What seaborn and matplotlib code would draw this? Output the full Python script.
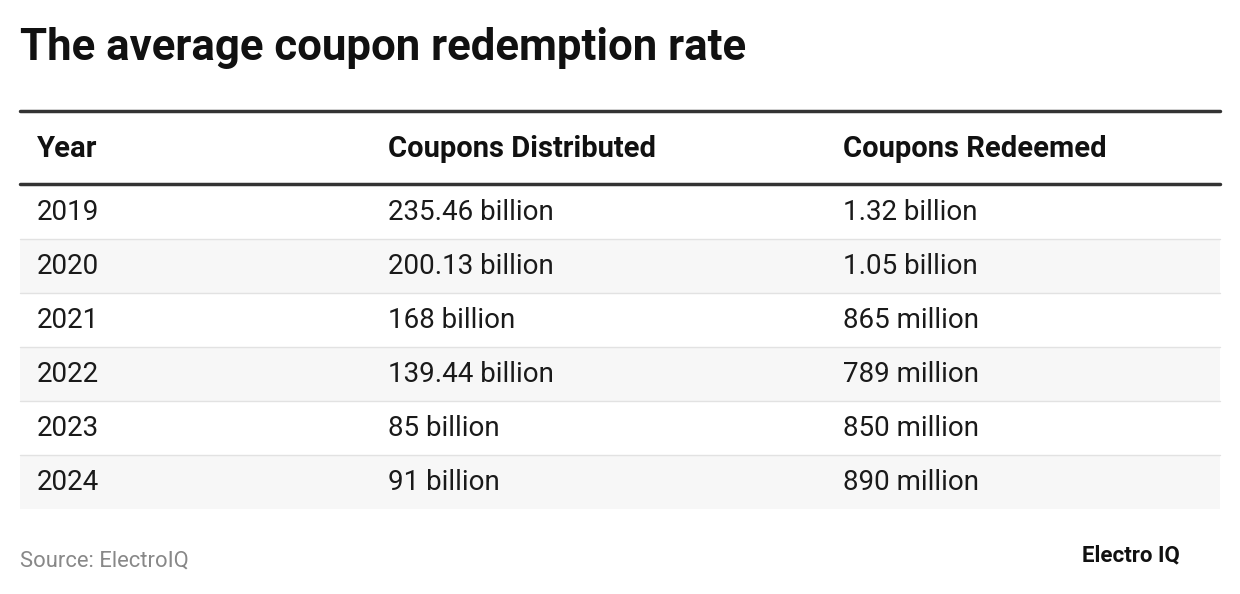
import matplotlib
matplotlib.use("Agg")
import matplotlib.pyplot as plt
import seaborn as sns

years = ["2019", "2020", "2021", "2022", "2023", "2024"]
distributed = ["235.46 billion", "200.13 billion", "168 billion", "139.44 billion", "85 billion", "91 billion"]
redeemed = ["1.32 billion", "1.05 billion", "865 million", "789 million", "850 million", "890 million"]
headers = ["Year", "Coupons Distributed", "Coupons Redeemed"]

sns.set_theme(style="white", font="Roboto")
fig = plt.figure(figsize=(12.4, 5.94), dpi=100)
ax = fig.add_axes([0, 0, 1, 1])
ax.set_xlim(0, 1240)
ax.set_ylim(594, 0)
ax.axis("off")

ax.text(20, 48, "The average coupon redemption rate", fontsize=31.5, fontweight="bold",
        va="center", color="#111111")

col_x = [37, 388, 843]
ax.plot([20, 1220], [111, 111], color="#333333", lw=2.5)
for x, h in zip(col_x, headers):
    ax.text(x, 149, h, fontsize=21, fontweight="bold", va="center", color="#111111")
ax.plot([20, 1220], [184, 184], color="#333333", lw=2.5)

row_h = 54
for i, (y, d, r) in enumerate(zip(years, distributed, redeemed)):
    top = 185 + i * row_h
    if i % 2 == 1:
        ax.fill_between([20, 1220], top, top + row_h, color="#f7f7f7", lw=0)
    if i < len(years) - 1:
        ax.plot([20, 1220], [top + row_h, top + row_h], color="#e2e2e2", lw=1)
    cy = top + row_h / 2 + 1
    for x, t in zip(col_x, [y, d, r]):
        ax.text(x, cy, t, fontsize=20, va="center", color="#1a1a1a")

ax.text(20, 561, "Source: ElectroIQ", fontsize=15.8, va="center", color="#888888")
ax.text(1082, 555, "Electro IQ", fontsize=16, fontweight="bold", va="center", color="#111111")

fig.savefig("out.png", dpi=100)
